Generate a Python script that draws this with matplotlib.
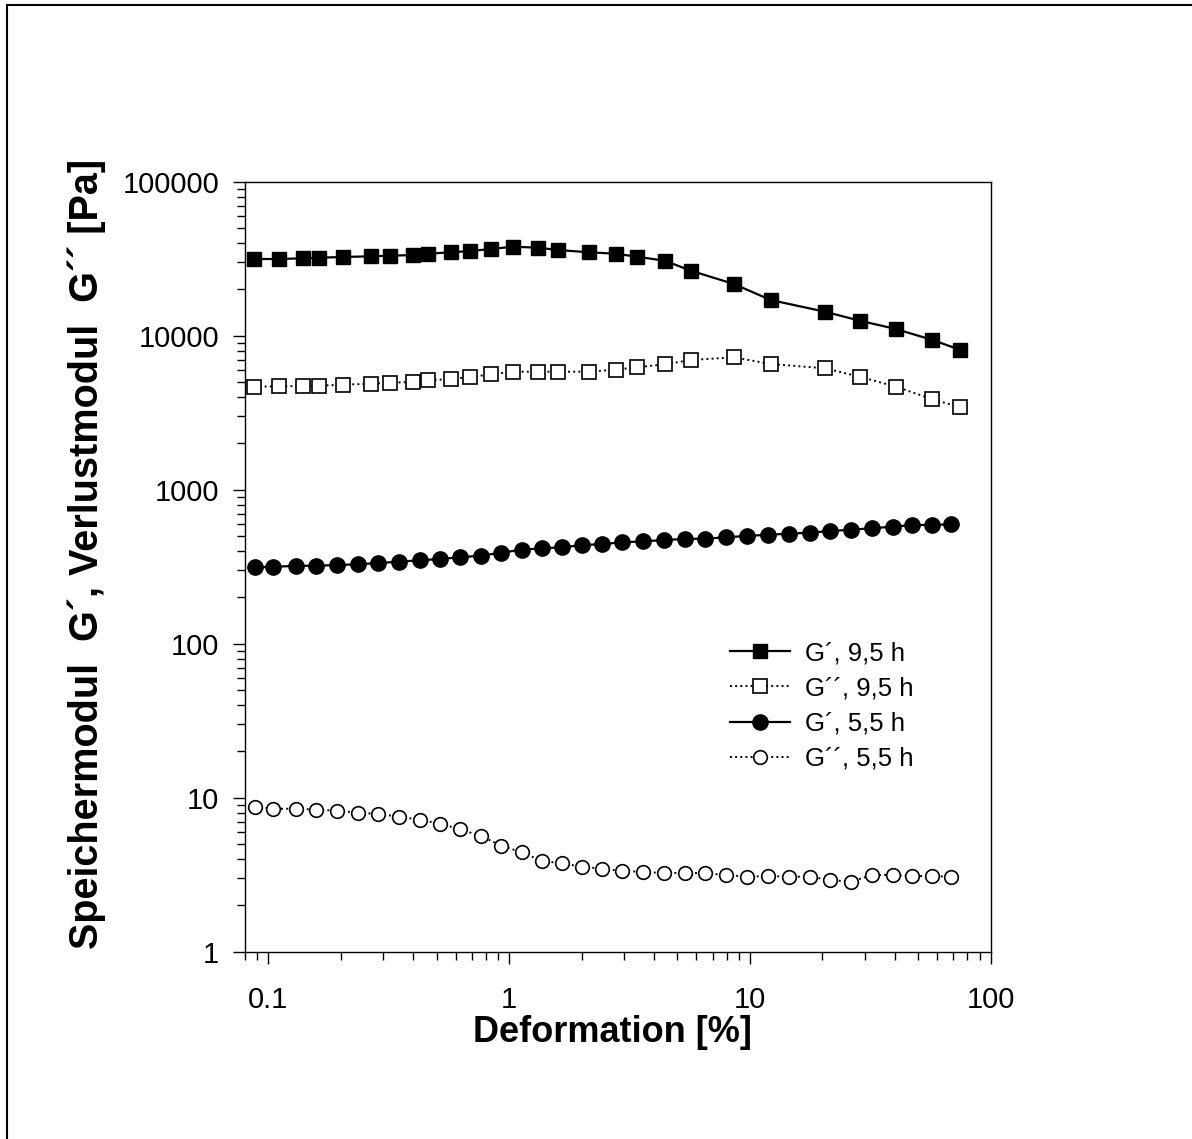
import matplotlib
matplotlib.use('Agg')
import matplotlib.pyplot as plt
from matplotlib.lines import Line2D
from matplotlib.ticker import LogLocator, FixedLocator, FuncFormatter, NullFormatter

plt.rcParams['font.family'] = ['Liberation Sans', 'DejaVu Sans']

# Amplitude sweep, 9,5 h sample (squares)
strain_95 = [0.0875, 0.111, 0.139, 0.163, 0.204, 0.267, 0.321, 0.400, 0.461, 0.573,
             0.689, 0.842, 1.04, 1.32, 1.60, 2.14, 2.77, 3.39, 4.43, 5.69,
             8.58, 12.2, 20.5, 28.6, 40.4, 57.3, 74.9]
g1_95 = [31480, 31480, 31810, 32100, 32440, 32780, 33080, 33420, 34080, 34800,
         35480, 36560, 37840, 37270, 36010, 34800, 34080, 32590, 30690, 26420,
         21660, 17050, 14310, 12510, 11050, 9380, 8080]
g2_95 = [4665, 4692, 4714, 4735, 4806, 4879, 4952, 5005, 5133, 5234,
         5393, 5617, 5838, 5838, 5838, 5838, 6016, 6235, 6521, 6954,
         7240, 6550, 6143, 5418, 4665, 3864, 3428]

# Amplitude sweep, 5,5 h sample (circles)
strain_55 = [0.0883, 0.105, 0.130, 0.158, 0.193, 0.236, 0.286, 0.350, 0.427, 0.517,
             0.626, 0.763, 0.929, 1.13, 1.37, 1.66, 2.00, 2.44, 2.95, 3.61,
             4.41, 5.39, 6.52, 7.95, 9.72, 11.9, 14.5, 17.7, 21.5, 26.3,
             32.2, 39.1, 47.3, 56.8, 68.1]
g1_55 = [313, 316, 320, 321, 324, 328, 334, 341, 348, 355,
         364, 373, 390, 408, 416, 423, 436, 444, 455, 462,
         471, 479, 481, 491, 501, 510, 518, 526, 539, 550,
         562, 575, 590, 590, 596]
g2_55 = [8.66, 8.48, 8.48, 8.36, 8.23, 7.99, 7.84, 7.53, 7.17, 6.78,
         6.23, 5.64, 4.88, 4.42, 3.88, 3.75, 3.56, 3.46, 3.33, 3.31,
         3.23, 3.26, 3.23, 3.15, 3.07, 3.10, 3.07, 3.07, 2.92, 2.85,
         3.15, 3.15, 3.10, 3.10, 3.07]

labels = ['G\u00b4, 9,5 h', 'G\u00b4\u00b4, 9,5 h', 'G\u00b4, 5,5 h', 'G\u00b4\u00b4, 5,5 h']

W, H = 1192, 1139
fig = plt.figure(figsize=(W / 100, H / 100), dpi=100)
ax = fig.add_axes([245 / W, 1 - 951.7 / H, 745.7 / W, 770 / H])

ax.plot(strain_95, g1_95, '-', color='black', lw=1.6, marker='s', ms=10.5,
        mfc='black', mec='black', label=labels[0])
ax.plot(strain_95, g2_95, ':', color='black', lw=1.4, marker='s', ms=10.5,
        mfc='white', mec='black', mew=1.2, label=labels[1])
ax.plot(strain_55, g1_55, '-', color='black', lw=1.6, marker='o', ms=11,
        mfc='black', mec='black', label=labels[2])
ax.plot(strain_55, g2_55, ':', color='black', lw=1.4, marker='o', ms=9.8,
        mfc='white', mec='black', mew=1.2, label=labels[3])

ax.set_xscale('log')
ax.set_yscale('log')
ax.set_xlim(0.08, 100)
ax.set_ylim(1, 100000)

ax.xaxis.set_major_locator(FixedLocator([0.1, 1, 10, 100]))
ax.xaxis.set_minor_locator(LogLocator(base=10, subs=range(2, 10)))
ax.xaxis.set_major_formatter(FuncFormatter(lambda v, p: '%g' % v))
ax.xaxis.set_minor_formatter(NullFormatter())
ax.yaxis.set_major_locator(FixedLocator([1, 10, 100, 1000, 10000, 100000]))
ax.yaxis.set_minor_locator(LogLocator(base=10, subs=range(2, 10)))
ax.yaxis.set_major_formatter(FuncFormatter(lambda v, p: '%d' % v))
ax.yaxis.set_minor_formatter(NullFormatter())

ax.tick_params(which='major', direction='out', length=8.6, width=1, labelsize=21)
ax.tick_params(which='minor', direction='out', length=5.8, width=1)
ax.tick_params(axis='x', which='major', pad=16)
ax.tick_params(axis='y', which='major', pad=10)
ax.tick_params(top=False, right=False, which='both')
for s in ax.spines.values():
    s.set_linewidth(1)

fig.text(612.5 / W, 1 - 1033 / H, 'Deformation [%]', fontsize=26, fontweight='bold',
         ha='center', va='center')
fig.text(87 / W, 1 - 554 / H, 'Speichermodul  G\u00b4, Verlustmodul  G\u00b4\u00b4 [Pa]',
         fontsize=28.5, fontweight='bold', rotation=90, ha='center', va='center')

ax.legend(loc='upper left', bbox_to_anchor=(730 / W, 1 - 641 / H),
          bbox_transform=fig.transFigure, frameon=False, fontsize=18.5,
          numpoints=1, handlelength=2.33, handletextpad=0.6, labelspacing=0.44,
          borderpad=0, borderaxespad=0)

# outer frame lines along the left and top edges
fig.add_artist(Line2D([7 / W, 7 / W], [0, 1 - 5 / H], transform=fig.transFigure,
                      color='black', lw=1.5))
fig.add_artist(Line2D([7 / W, 1], [1 - 5 / H, 1 - 5 / H], transform=fig.transFigure,
                      color='black', lw=1.5))

fig.savefig('out.png', dpi=100)
